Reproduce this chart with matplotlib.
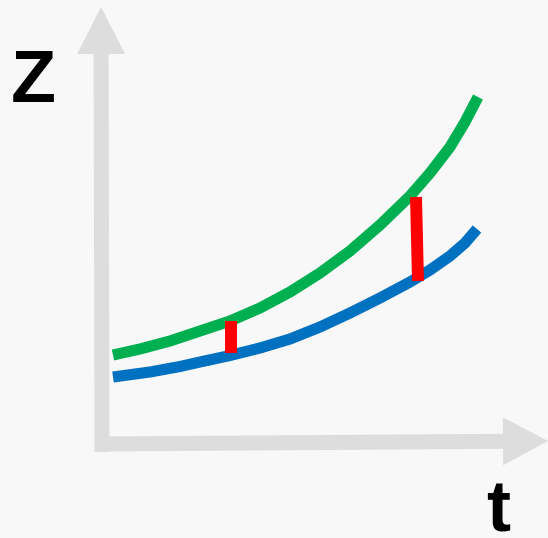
import matplotlib.pyplot as plt

# schematic curves in pixel coordinates (y grows downward)
green_x = [113, 140, 170, 200, 230, 260, 290, 320, 350, 380, 410, 430, 450, 465, 478]
green_y = [355, 349, 341, 331, 321, 308, 292, 273, 251, 225, 196, 173, 147, 122, 97]
blue_x = [113, 150, 180, 200, 230, 260, 290, 320, 350, 380, 410, 430, 450, 465, 477]
blue_y = [377, 372, 366.5, 362, 355.5, 348, 339, 327, 313, 298, 282, 270, 256, 243, 229]

# red gap markers: (x_top, y_top, x_bottom, y_bottom)
gaps = [(231, 321, 231, 353), (416, 197, 418, 281)]

axis_grey = '#dddddd'
bg = '#f8f8f8'

fig = plt.figure(figsize=(5.48, 5.38), dpi=100)
fig.patch.set_facecolor(bg)
ax = fig.add_axes([0, 0, 1, 1])
ax.set_facecolor(bg)
ax.set_xlim(0, 548)
ax.set_ylim(538, 0)
ax.axis('off')

# axis arrows
ax.arrow(102, 452, -1, -445, width=15, head_width=48, head_length=47,
         length_includes_head=True, color=axis_grey, lw=0)
ax.arrow(103, 444, 445, -3, width=15, head_width=48, head_length=45,
         length_includes_head=True, color=axis_grey, lw=0)

ax.plot(green_x, green_y, color='#00b050', lw=8,
        solid_capstyle='butt', solid_joinstyle='round')
ax.plot(blue_x, blue_y, color='#0070c0', lw=8,
        solid_capstyle='butt', solid_joinstyle='round')
for x0, y0, x1, y1 in gaps:
    ax.plot([x0, x1], [y0, y1], color='#ff0000', lw=8.6, solid_capstyle='butt')

ax.text(33, 102, 'Z', fontsize=53, fontweight='bold', family='Liberation Sans',
        ha='center', va='baseline', color='black')
ax.text(498, 532, 't', fontsize=52, fontweight='bold', family='Liberation Sans',
        ha='center', va='baseline', color='black')

fig.savefig('out.png', dpi=100, facecolor=fig.get_facecolor())
